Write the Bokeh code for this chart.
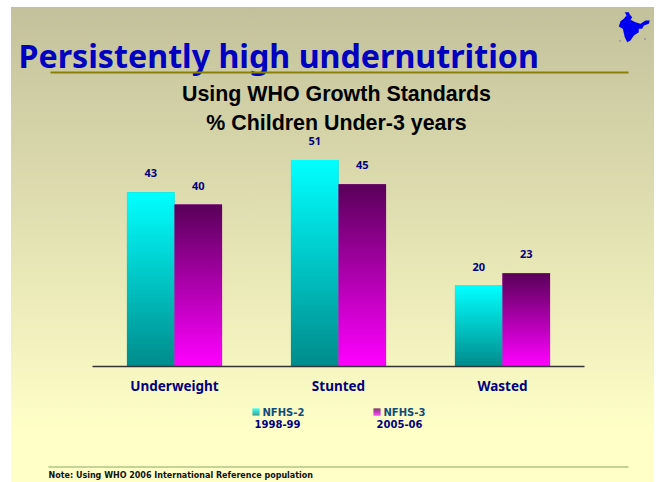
from bokeh.plotting import figure
from bokeh.embed import file_html
from bokeh.resources import INLINE
from bokeh.core.properties import value
from bokeh.models import (ColumnDataSource, Range1d, Label, LabelSet, LinearAxis, FixedTicker,
                          BoxAnnotation, PolyAnnotation)
import numpy as np

categories = ["Underweight", "Stunted", "Wasted"]
nfhs2 = [43, 51, 20]
nfhs3 = [40, 45, 23]
series_names = ["NFHS-2", "NFHS-3"]
series_years = ["1998-99", "2005-06"]
title = "Persistently high undernutrition"
subtitle = ["Using WHO Growth Standards", "% Children Under-3 years"]
note = "Note: Using WHO 2006 International Reference population"

NAVY = "#000080"
TOP2, BOT2 = (0, 255, 255), (0, 140, 140)
TOP3, BOT3 = (90, 0, 90), (255, 0, 255)
BAR_W = 0.29
LEFT, TOP = 11, 7   # page position of the canvas
W, H = 643, 475
PX_X, PX_Y = 164, 4.05   # pixels per category, per percent
X0, Y0 = 174, 366        # page position of category 0 centre, of the baseline

# India icon outline, page pixels
india_x = [624.3, 628.3, 629.3, 631.7, 630, 635, 640, 645, 649.3, 648.3, 643.3, 641.7, 638.3, 638.3, 633.3, 630, 626.7, 624.3, 622.3, 618.3, 620, 623.3, 626]
india_y = [11.7, 11.7, 14, 16.7, 19.3, 21.7, 23.3, 20, 20, 23.3, 25, 28.3, 28.3, 31.7, 35, 40, 41.7, 36.7, 28.3, 26, 20.7, 18.3, 15]
islands = [(619, 40), (644, 38)]


def sx(x):
    return x - LEFT


def sy(y):
    return H - (y - TOP)


x_start = -(X0 - LEFT) / PX_X
y_start = -(H - (Y0 - TOP)) / PX_Y
p = figure(width=W, height=H, output_backend="svg", toolbar_location=None,
           x_range=Range1d(x_start, x_start + W / PX_X),
           y_range=Range1d(y_start, y_start + H / PX_Y),
           min_border=0, x_axis_type=None, y_axis_type=None,
           background_fill_color=None, border_fill_color=None, outline_line_color=None)
p.styles = {
    "margin-left": f"{LEFT}px", "margin-top": f"{TOP}px",
    "background": "linear-gradient(to bottom, #C3C19B 0%, #FFFFC8 90%, #FFFFC8 100%)",
}
p.grid.visible = False

ax = LinearAxis(fixed_location=0, ticker=FixedTicker(ticks=list(range(len(categories)))),
                major_label_overrides={i: c for i, c in enumerate(categories)},
                bounds=(-0.5, len(categories) - 0.5))
ax.axis_line_color = "#333333"
ax.axis_line_width = 1.5
ax.major_tick_line_color = None
ax.minor_tick_line_color = None
ax.major_label_standoff = 4
ax.major_label_text_font = "Noto Sans"
ax.major_label_text_font_style = "bold"
ax.major_label_text_font_size = "13.5px"
ax.major_label_text_color = NAVY


def ramp(top, bottom, n=64):
    """Vertical RGBA image, bottom row first."""
    t = np.linspace(0, 1, n)[:, None]
    c = [np.round(bottom[i] + (top[i] - bottom[i]) * t).astype(np.uint32) for i in range(3)]
    return c[0] | (c[1] << 8) | (c[2] << 16) | (255 << 24)


idx = np.arange(len(categories))
src = ColumnDataSource(dict(xa=idx - BAR_W / 2, xb=idx + BAR_W / 2, a=nfhs2, b=nfhs3,
                            la=[str(v) for v in nfhs2], lb=[str(v) for v in nfhs3]))
p.vbar(x="xa", top="a", width=BAR_W, source=src, fill_color="#00C0C0", line_color=None)
p.vbar(x="xb", top="b", width=BAR_W, source=src, fill_color="#B000B0", line_color=None)
for i in range(len(categories)):
    p.image_rgba(image=[ramp(TOP2, BOT2)], x=[i - BAR_W], y=[0], dw=[BAR_W], dh=[nfhs2[i]])
    p.image_rgba(image=[ramp(TOP3, BOT3)], x=[i], y=[0], dw=[BAR_W], dh=[nfhs3[i]])
p.add_layout(ax, "below")

for xc, col, txt in (("xa", "a", "la"), ("xb", "b", "lb")):
    p.add_layout(LabelSet(x=xc, y=col, text=txt, source=src,
                          y_offset=19, text_align="center", text_baseline="middle",
                          text_font=value("Noto Sans"), text_font_style="bold",
                          text_font_size=value("11px"), text_color=NAVY))


def label(x, y, text, font, size, color, align="left", style="bold"):
    p.add_layout(Label(x=sx(x), y=sy(y), x_units="screen", y_units="screen", text=text,
                       text_font=font, text_font_size=size, text_font_style=style,
                       text_color=color, text_align=align, text_baseline="middle"))


label(18, 55, title, "Noto Sans", "32.2px", "#0000C0")
label(336, 93, subtitle[0], "Liberation Sans", "21.4px", "#000000", "center")
label(336, 122, subtitle[1], "Liberation Sans", "21.4px", "#000000", "center")
label(48, 475, note, "DejaVu Sans", "8px", "#111111")

# legend
legend_x = [252, 373]
year_x = [277, 399]
tops = [TOP2, TOP3]
bots = [BOT2, BOT3]
for k in range(2):
    for r in range(7):
        f = r / 6
        c = tuple(int(tops[k][j] + (bots[k][j] - tops[k][j]) * f) for j in range(3))
        p.add_layout(BoxAnnotation(left=sx(legend_x[k]), right=sx(legend_x[k] + 7),
                                   top=sy(408 + r), bottom=sy(409 + r),
                                   left_units="screen", right_units="screen",
                                   top_units="screen", bottom_units="screen",
                                   fill_color="#%02x%02x%02x" % c, fill_alpha=1, line_color=None))
    label(legend_x[k] + 10, 412, series_names[k], "DejaVu Sans", "10px", "#0F4C7A")
    label(year_x[k], 423, series_years[k], "DejaVu Sans", "10px", NAVY, "center")

# title rule and note rule
p.add_layout(BoxAnnotation(left=sx(50), right=sx(628), top=sy(71), bottom=sy(73),
                           left_units="screen", right_units="screen", top_units="screen",
                           bottom_units="screen", fill_color="#8B8008", fill_alpha=1, line_color=None))
p.add_layout(BoxAnnotation(left=sx(48), right=sx(628), top=sy(466.5), bottom=sy(466.5),
                           left_units="screen", right_units="screen", top_units="screen",
                           bottom_units="screen", fill_alpha=0, line_alpha=1,
                           line_color="#7F9A50", line_width=1, line_dash="1 1"))
# India icon
p.add_layout(PolyAnnotation(xs=[sx(v) for v in india_x], ys=[sy(v) for v in india_y],
                            xs_units="screen", ys_units="screen", fill_color="#0000F0",
                            fill_alpha=1, line_color=None))
for ix, iy in islands:
    p.add_layout(BoxAnnotation(left=sx(ix), right=sx(ix + 1), top=sy(iy), bottom=sy(iy + 1),
                               left_units="screen", right_units="screen", top_units="screen",
                               bottom_units="screen", fill_color="#3030D0", fill_alpha=1,
                               line_color=None))

open("out.html", "w").write(file_html(p, INLINE))
